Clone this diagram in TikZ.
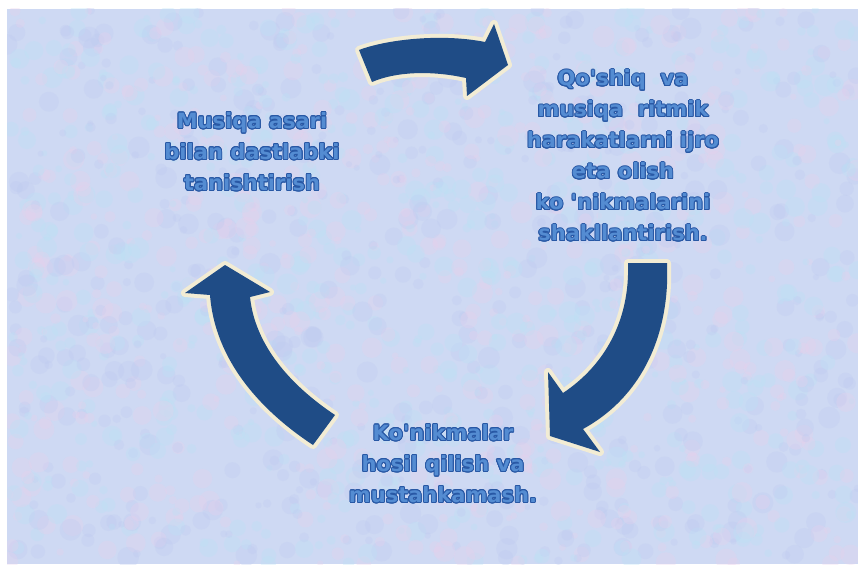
\documentclass[tikz,border=0pt]{standalone}
\usepackage{fontspec}
\newfontfamily\lblfont{DejaVu Sans}
\usepackage[copies]{contour}
\contourlength{0.9pt}
\contournumber{16}
\definecolor{arrowblue}{RGB}{31,76,134}
\definecolor{cream}{RGB}{242,236,212}
\definecolor{textfill}{RGB}{84,140,210}
\definecolor{textdark}{RGB}{40,88,165}
\definecolor{bgbase}{RGB}{206,217,243}
\definecolor{bgpink}{RGB}{232,208,236}
\definecolor{bgcyan}{RGB}{186,226,246}
\definecolor{bgblue}{RGB}{190,202,240}
\newcommand\ctr[1]{\contour{textdark}{#1}}
\tikzset{
  lbl/.style={font=\lblfont\bfseries\fontsize{21}{31}\selectfont, text=textfill, align=center, inner sep=0pt},
  cyclearrow/.style={fill=arrowblue, preaction={draw=cream, line width=8pt, line join=round}}
}
\begin{document}
\begin{tikzpicture}[x=1pt,y=-1pt]
\useasboundingbox (0,0) rectangle (858,564);
\fill[white] (0,0) rectangle (858,564);
\fill[bgbase] (7,9) rectangle (858,564);
\begin{scope}
\clip (7,9) rectangle (858,564);
\pgfmathsetseed{11}
\foreach \i in {1,...,1800}{
  \pgfmathsetmacro{\bx}{7+851*rnd}
  \pgfmathsetmacro{\by}{9+555*rnd}
  \pgfmathsetmacro{\br}{3+8*rnd}
  \pgfmathtruncatemacro{\bc}{int(3*rnd)}
  \ifcase\bc \def\bcol{bgpink}\or \def\bcol{bgcyan}\else \def\bcol{bgblue}\fi
  \fill[\bcol, opacity=0.3] (\bx,\by) circle (\br pt);
}
\end{scope}

% arrows
\path[cyclearrow] (359,50) .. controls (385,40) and (440,33) .. (485,42)
  -- (494,24) -- (508,65) -- (467,96) -- (466,78)
  .. controls (430,70) and (395,72) .. (372,82) -- cycle;
\path[cyclearrow] (628,263) -- (667,263)
  .. controls (670,330) and (645,395) .. (583,429)
  -- (600,452) -- (550,436) -- (548,372) -- (563,393)
  .. controls (605,365) and (630,320) .. (628,263) -- cycle;
\path[cyclearrow] (335,415) -- (313,445)
  .. controls (260,410) and (215,360) .. (210,295)
  -- (185,293) -- (225,265) -- (270,292) -- (250,297)
  .. controls (255,345) and (290,385) .. (335,415) -- cycle;

% texts
\node[lbl] (intro) at (252,152) {\ctr{Musiqa asari}\\\ctr{bilan dastlabki}\\\ctr{tanishtirish}};
\node[lbl] (skills) at (623,156) {\ctr{Qo'shiq\ \ va}\\\ctr{musiqa\ \ ritmik}\\\ctr{harakatlarni ijro}\\\ctr{eta olish}\\\ctr{ko 'nikmalarini}\\\ctr{shakllantirish.}};
\node[lbl] (fix) at (443,464) {\ctr{Ko'nikmalar}\\\ctr{hosil qilish va}\\\ctr{mustahkamash.}};
\end{tikzpicture}
\end{document}
